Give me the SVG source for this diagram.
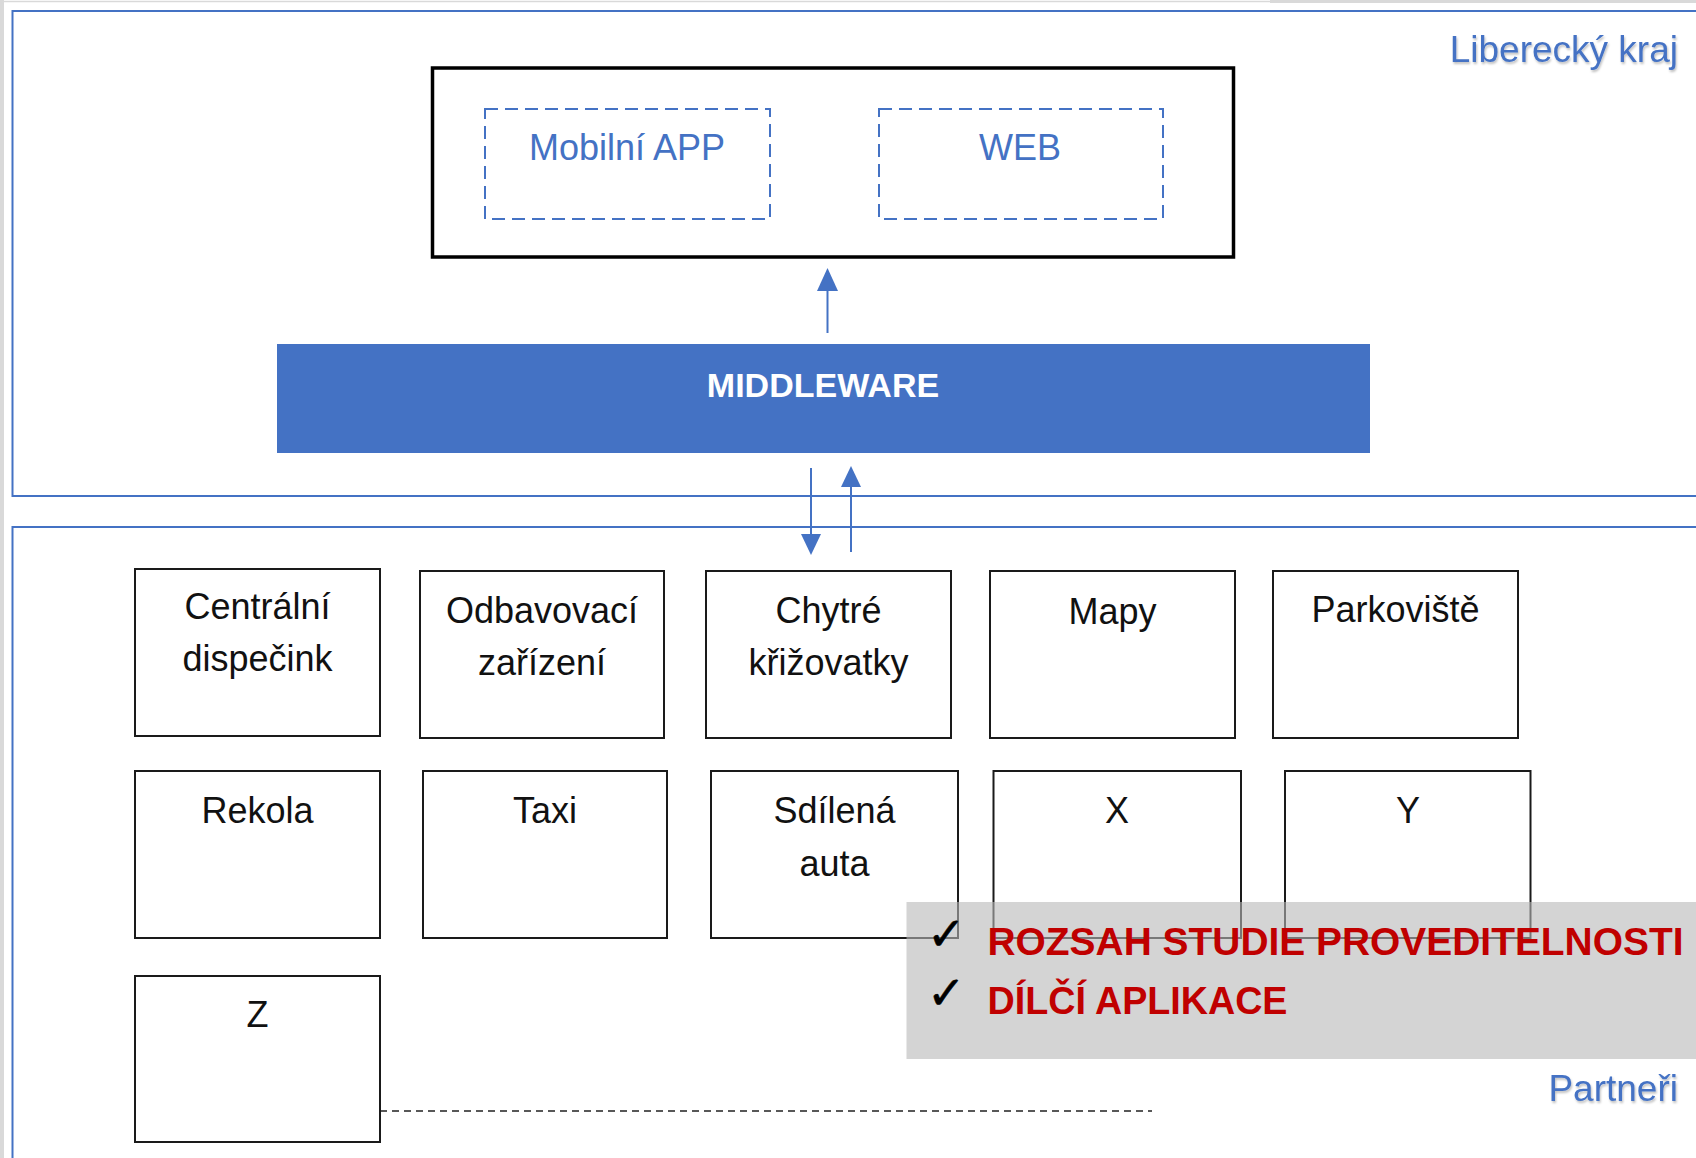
<svg xmlns="http://www.w3.org/2000/svg" width="1696" height="1158" viewBox="0 0 1696 1158">
<style>
.frame{fill:none;stroke:#4472C4;stroke-width:2}
.node{fill:#fff;stroke:#1a1a1a;stroke-width:2}
.dash{fill:none;stroke:#4472C4;stroke-width:2;stroke-dasharray:13 7}
.t{font-family:"Liberation Sans",Arial,sans-serif;font-size:36px;fill:#111;text-anchor:middle}
.bt{font-family:"Liberation Sans",Arial,sans-serif;font-size:36px;fill:#4472C4;text-anchor:middle}
.lbl{font-family:"Liberation Sans",Arial,sans-serif;font-size:37px;fill:#4472C4;text-anchor:end;filter:url(#sh)}
.red{font-family:"Liberation Sans",Arial,sans-serif;font-size:39px;font-weight:bold;fill:#C00000}
.chk{font-family:"DejaVu Sans",sans-serif;font-size:46px;fill:#000;stroke:#000;stroke-width:0.6}
.conn{stroke:#4472C4;stroke-width:2;fill:none}
</style>
<defs>
<filter id="sh" x="-10%" y="-20%" width="130%" height="160%">
<feDropShadow dx="1" dy="2" stdDeviation="1" flood-color="#000" flood-opacity="0.25"/>
</filter>
</defs>
<rect width="1696" height="1158" fill="#fff"/>
<rect x="0" y="0" width="4" height="1158" fill="#d9d9d9"/>
<line x1="0" y1="1.5" x2="1270" y2="1.5" stroke="#d9d9d9" stroke-width="1.5"/>
<rect x="1270" y="0" width="426" height="3" fill="#d9d9d9"/>

<g id="frame-liberecky-kraj">
<rect class="frame" x="12.5" y="11" width="1700" height="485"/>
<text class="lbl" x="1678" y="62">Liberecký kraj</text>
</g>
<g id="frame-partneri">
<rect class="frame" x="12.5" y="527" width="1700" height="700"/>
<text class="lbl" x="1678" y="1101">Partneři</text>
</g>

<g id="frontend">
<rect x="432.5" y="68" width="801" height="189" fill="#fff" stroke="#000" stroke-width="3.5"/>
</g>
<g id="mobilni-app">
<rect class="dash" x="485" y="109" width="285" height="110"/>
<text class="bt" x="627" y="160">Mobilní APP</text>
</g>
<g id="web">
<rect class="dash" x="879" y="109" width="284" height="110"/>
<text class="bt" x="1020" y="160">WEB</text>
</g>

<g id="middleware">
<rect x="277" y="344" width="1093" height="109" fill="#4472C4"/>
<text x="823" y="397" font-family="'Liberation Sans',Arial,sans-serif" font-size="34" font-weight="bold" fill="#fff" text-anchor="middle">MIDDLEWARE</text>
</g>

<g id="connectors">
<line class="conn" x1="827.5" y1="333" x2="827.5" y2="288"/>
<polygon points="827.5,268 817,291 838,291" fill="#4472C4"/>
<line class="conn" x1="811" y1="468" x2="811" y2="536"/>
<polygon points="811,555 801,534 821,534" fill="#4472C4"/>
<line class="conn" x1="851" y1="552" x2="851" y2="485"/>
<polygon points="851,466 841,487 861,487" fill="#4472C4"/>
<line x1="380" y1="1111" x2="1152" y2="1111" stroke="#222" stroke-width="1.5" stroke-dasharray="7 5"/>
</g>

<g id="centralni-dispecink">
<rect class="node" x="135" y="569" width="245" height="167"/>
<text class="t" x="257.5" y="619">Centrální</text>
<text class="t" x="257.5" y="671">dispečink</text>
</g>
<g id="odbavovaci-zarizeni">
<rect class="node" x="420" y="571" width="244" height="167"/>
<text class="t" x="542" y="622.5">Odbavovací</text>
<text class="t" x="542" y="674.5">zařízení</text>
</g>
<g id="chytre-krizovatky">
<rect class="node" x="706" y="571" width="245" height="167"/>
<text class="t" x="828.5" y="623">Chytré</text>
<text class="t" x="828.5" y="675">křižovatky</text>
</g>
<g id="mapy">
<rect class="node" x="990" y="571" width="245" height="167"/>
<text class="t" x="1112.5" y="623.5">Mapy</text>
</g>
<g id="parkoviste">
<rect class="node" x="1273" y="571" width="245" height="167"/>
<text class="t" x="1395.5" y="622">Parkoviště</text>
</g>

<g id="rekola">
<rect class="node" x="135" y="771" width="245" height="167"/>
<text class="t" x="257.5" y="823">Rekola</text>
</g>
<g id="taxi">
<rect class="node" x="423" y="771" width="244" height="167"/>
<text class="t" x="545" y="823">Taxi</text>
</g>
<g id="sdilena-auta">
<rect class="node" x="711" y="771" width="247" height="167"/>
<text class="t" x="834.5" y="823">Sdílená</text>
<text class="t" x="834.5" y="876">auta</text>
</g>
<g id="x">
<rect class="node" x="993.5" y="771" width="247.5" height="167"/>
<text class="t" x="1117" y="823">X</text>
</g>
<g id="y">
<rect class="node" x="1285" y="771" width="245.5" height="167"/>
<text class="t" x="1408" y="823">Y</text>
</g>
<g id="z">
<rect class="node" x="135" y="976" width="245" height="166"/>
<text class="t" x="257.5" y="1026.5">Z</text>
</g>

<g id="callout">
<rect x="906.5" y="902" width="800" height="157" fill="#B7B7B7" fill-opacity="0.6"/>
<text class="chk" x="927" y="950">✓</text>
<text class="chk" x="927" y="1009">✓</text>
<text class="red" x="987.5" y="955" textLength="696" lengthAdjust="spacingAndGlyphs">ROZSAH STUDIE PROVEDITELNOSTI</text>
<text class="red" x="987.5" y="1014" textLength="300" lengthAdjust="spacingAndGlyphs">DÍLČÍ APLIKACE</text>
</g>
</svg>
